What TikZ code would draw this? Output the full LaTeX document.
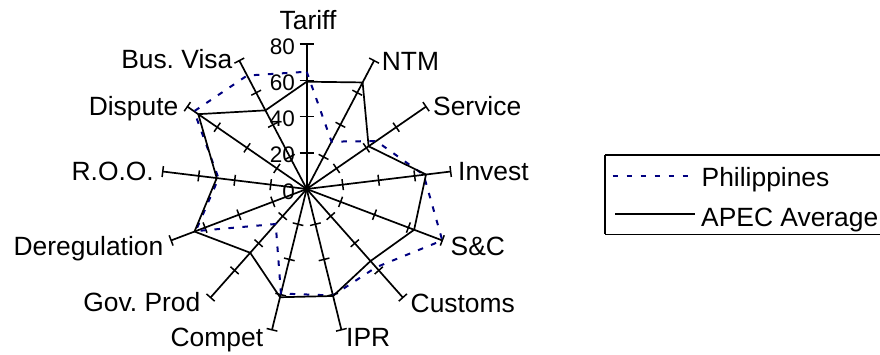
\documentclass[tikz,border=0pt]{standalone}
\usepackage{fontspec}
\setmainfont{Liberation Sans}
\definecolor{navyc}{RGB}{0,0,128}
\frenchspacing
\begin{document}
\begin{tikzpicture}[x=1pt,y=-1pt,
  axis/.style={line width=1.7pt, black},
  tickm/.style={line width=1.5pt, black},
  apec/.style={line width=1.7pt, black, line join=miter},
  phil/.style={line width=2pt, color=navyc, dash pattern=on 5.5pt off 8.5pt},
  lab/.style={inner sep=0pt, font=\fontsize{26.4}{30}\selectfont},
  num/.style={inner sep=0pt, anchor=base east, font=\fontsize{22.5}{26}\selectfont},
  legbox/.style={line width=1.6pt, black}]
\useasboundingbox (0,0) rectangle (880,354);
\def\cx{306.7}
\def\cy{189}
\coordinate (C) at (\cx,\cy);
% axes, ticks and data points
\foreach \i/\v/\w in {0/59.2/64.7, 1/66.4/29.5, 2/41.5/46.6, 3/66.3/65, 4/63.4/80,
                      5/53.1/57.7, 6/60.8/60.5, 7/61.5/59.4, 8/47/25.8, 9/66.2/65.5,
                      10/50/49, 11/72.7/75.5, 12/49/70.7} {
  \pgfmathsetmacro\t{\i*360/13}
  \coordinate (a\i) at ({\cx+145*sin(\t)},{\cy-145*cos(\t)});
  \coordinate (p\i) at ({\cx+1.8125*\v*sin(\t)},{\cy-1.8125*\v*cos(\t)});
  \coordinate (q\i) at ({\cx+1.8125*\w*sin(\t)},{\cy-1.8125*\w*cos(\t)});
  \draw[axis] (C) -- (a\i);
  \foreach \k in {1,2,3,4} {
    \pgfmathsetmacro\rr{36.25*\k}
    \pgfmathsetmacro\hh{ifthenelse(\i==0,7,5.5)}
    \draw[tickm] ({\cx+\rr*sin(\t)-\hh*cos(\t)},{\cy-\rr*cos(\t)-\hh*sin(\t)})
              -- ({\cx+\rr*sin(\t)+\hh*cos(\t)},{\cy-\rr*cos(\t)+\hh*sin(\t)});
  }
}
% value labels
\foreach \k/\lbl in {0/0,1/20,2/40,3/60,4/80} {
  \node[num] (n\k) at (295,{\cy-36.25*\k+10}) {\lbl};
}
% series
\draw[phil] (q0) -- (q1) -- (q2) -- (q3) -- (q4) -- (q5) -- (q6) -- (q7) -- (q8) -- (q9) -- (q10) -- (q11) -- (q12) -- cycle;
\draw[apec] (p0) -- (p1) -- (p2) -- (p3) -- (p4) -- (p5) -- (p6) -- (p7) -- (p8) -- (p9) -- (p10) -- (p11) -- (p12) -- cycle;
% category labels
\node[lab, anchor=base] (tTariff) at (308,29.3) {Tariff};
\node[lab, anchor=base west] (tNTM) at (381.7,70) {NTM};
\node[lab, anchor=base west] (tServ) at (433,115) {Service};
\node[lab, anchor=base west] (tInv) at (458,180.7) {Invest};
\node[lab, anchor=base west] (tSC) at (450.5,255) {S\&C};
\node[lab, anchor=base west] (tCust) at (410.5,312.7) {Customs};
\node[lab, anchor=base west] (tIPR) at (346,346.7) {IPR};
\node[lab, anchor=base east] (tComp) at (263.3,346.7) {Compet};
\node[lab, anchor=base east] (tGov) at (200.5,311.7) {Gov. Prod};
\node[lab, anchor=base east] (tDer) at (163.5,255) {Deregulation};
\node[lab, anchor=base east] (tROO) at (154,180.7) {R.O.O.};
\node[lab, anchor=base east] (tDisp) at (178.5,115) {Dispute};
\node[lab, anchor=base east] (tBus) at (232.5,68) {Bus. Visa};
% legend
\draw[legbox] (605,155) -- (900,155) (605,234.3) -- (900,234.3) (605,155) -- (605,234.3);
\coordinate (l1a) at (612.7,175.7);
\coordinate (l1b) at (695,175.7);
\coordinate (l2a) at (615,214.3);
\coordinate (l2b) at (695,214.3);
\draw[phil] (l1a) -- (l1b);
\draw[apec] (l2a) -- (l2b);
\node[lab, anchor=base west] (lgPhil) at (701.5,186.7) {Philippines};
\node[lab, anchor=base west] (lgApec) at (701,226.7) {APEC Average};
\end{tikzpicture}
\end{document}
